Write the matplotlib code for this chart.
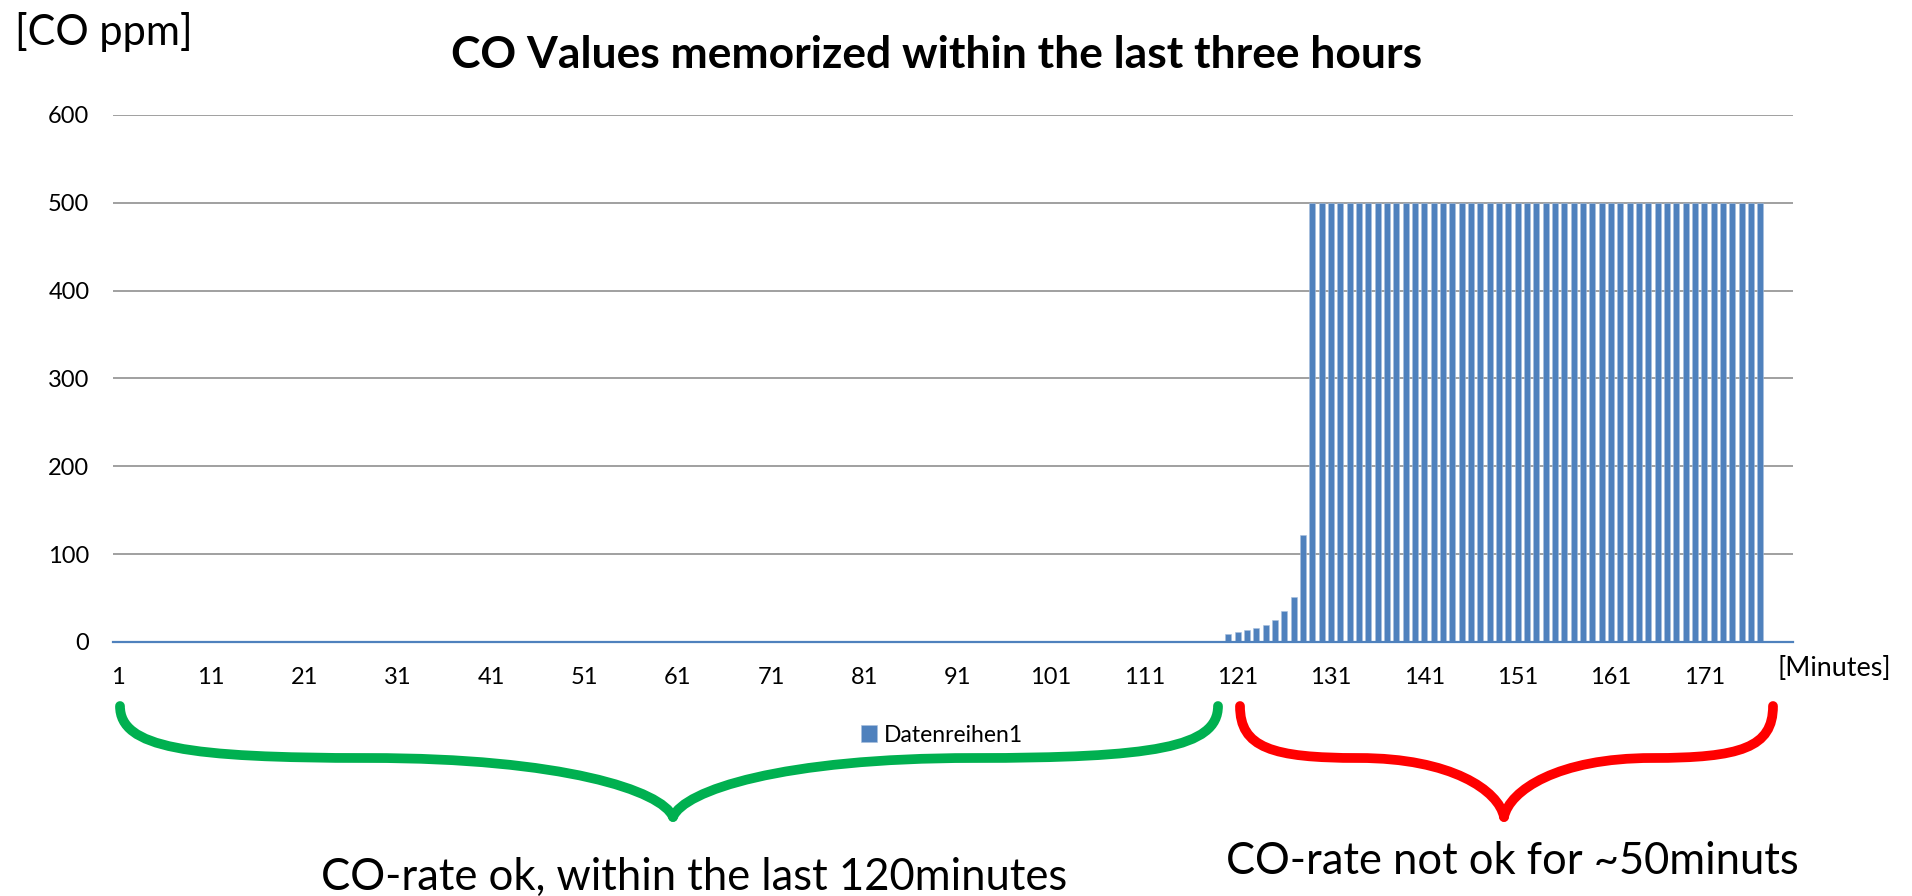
import matplotlib
matplotlib.use("Agg")
import matplotlib.pyplot as plt
from matplotlib.path import Path
from matplotlib.patches import PathPatch

# minutes 1..180, CO readings in ppm
minutes = list(range(1, 181))
co_ppm = ([0] * 119
          + [9.5, 11, 13.5, 15.5, 19.5, 25.5, 35.5, 51, 122]
          + [500] * 49
          + [0] * 3)
tick_minutes = list(range(1, 172, 10))
y_ticks = [0, 100, 200, 300, 400, 500, 600]

series_name = "Datenreihen1"
title = "CO Values memorized within the last three hours"
ok_text = "CO-rate ok, within the last 120minutes"
bad_text = "CO-rate not ok for ~50minuts"

BAR = "#4F81BD"
GRID = "#868686"
FONT = ["Lato", "DejaVu Sans"]

plt.rcParams["font.family"] = FONT

W, H = 1912, 896
fig = plt.figure(figsize=(W / 100, H / 100), dpi=100)
ax = fig.add_axes([113 / W, 1 - 642 / H, (1793 - 113) / W, (642 - 115) / H])

ax.bar(minutes, co_ppm, width=0.62, color=BAR, edgecolor="#A9C0DD", linewidth=0.4, zorder=3, label=series_name)
ax.set_xlim(0.5, 180.5)
ax.set_ylim(0, 600)
ax.set_yticks(y_ticks)
ax.set_xticks(tick_minutes)
ax.tick_params(axis="both", length=0, labelsize=17)
ax.tick_params(axis="y", pad=17)
ax.tick_params(axis="x", pad=18)
ax.yaxis.grid(True, color=GRID, linewidth=1.1, zorder=0)
for s in ("top", "left", "right"):
    ax.spines[s].set_visible(False)
ax.spines["bottom"].set_color(BAR)
ax.spines["bottom"].set_linewidth(1.6)
ax.spines["bottom"].set_zorder(4)

fig.legend(loc="center", bbox_to_anchor=(942 / W, 1 - 735 / H), frameon=False,
           fontsize=16.5, handlelength=0.7, handleheight=0.7, handletextpad=0.3)

# overlay in pixel coordinates for annotations
ov = fig.add_axes([0, 0, 1, 1], zorder=-1)
ov.set_xlim(0, W)
ov.set_ylim(H, 0)
ov.axis("off")

renderer = fig.canvas.get_renderer()


def fit_text(x, y, s, width_px, size, **kw):
    t = ov.text(x, y, s, fontsize=size, **kw)
    w = t.get_window_extent(renderer=renderer).width
    t.set_fontsize(size * width_px / w)
    return t


fit_text(937, 55, title, 970, 26, ha="center", va="center", fontweight="bold")
fit_text(15, 32, "[CO ppm]", 178, 28, ha="left", va="center")
fit_text(1778, 668, "[Minutes]", 114, 16, ha="left", va="center")
fit_text(694, 877, ok_text, 748, 28, ha="center", va="center")
fit_text(1512, 862, bad_text, 574, 28, ha="center", va="center")


def half_brace(xe, xt, ytop, ymid, ytip, color):
    d = xt - xe
    verts = [
        (xe, ytop),
        (xe, ytop + 0.8 * (ymid - ytop)), (xe + 0.12 * d, ymid), (xe + 0.45 * d, ymid),
        (xe + 0.8 * d, ymid), (xt - 0.02 * d, ytip - 0.45 * (ytip - ymid)), (xt, ytip),
    ]
    codes = [Path.MOVETO] + [Path.CURVE4] * 6
    ov.add_patch(PathPatch(Path(verts, codes), fill=False, edgecolor=color,
                           linewidth=7, capstyle="round"))


def brace(x0, xt, x1, color, ytop=706, ymid=758, ytip=817):
    half_brace(x0, xt, ytop, ymid, ytip, color)
    half_brace(x1, xt, ytop, ymid, ytip, color)


brace(120, 673, 1218, "#00B050")
brace(1240, 1504, 1773, "#FF0000")

fig.savefig("out.png", dpi=100)
